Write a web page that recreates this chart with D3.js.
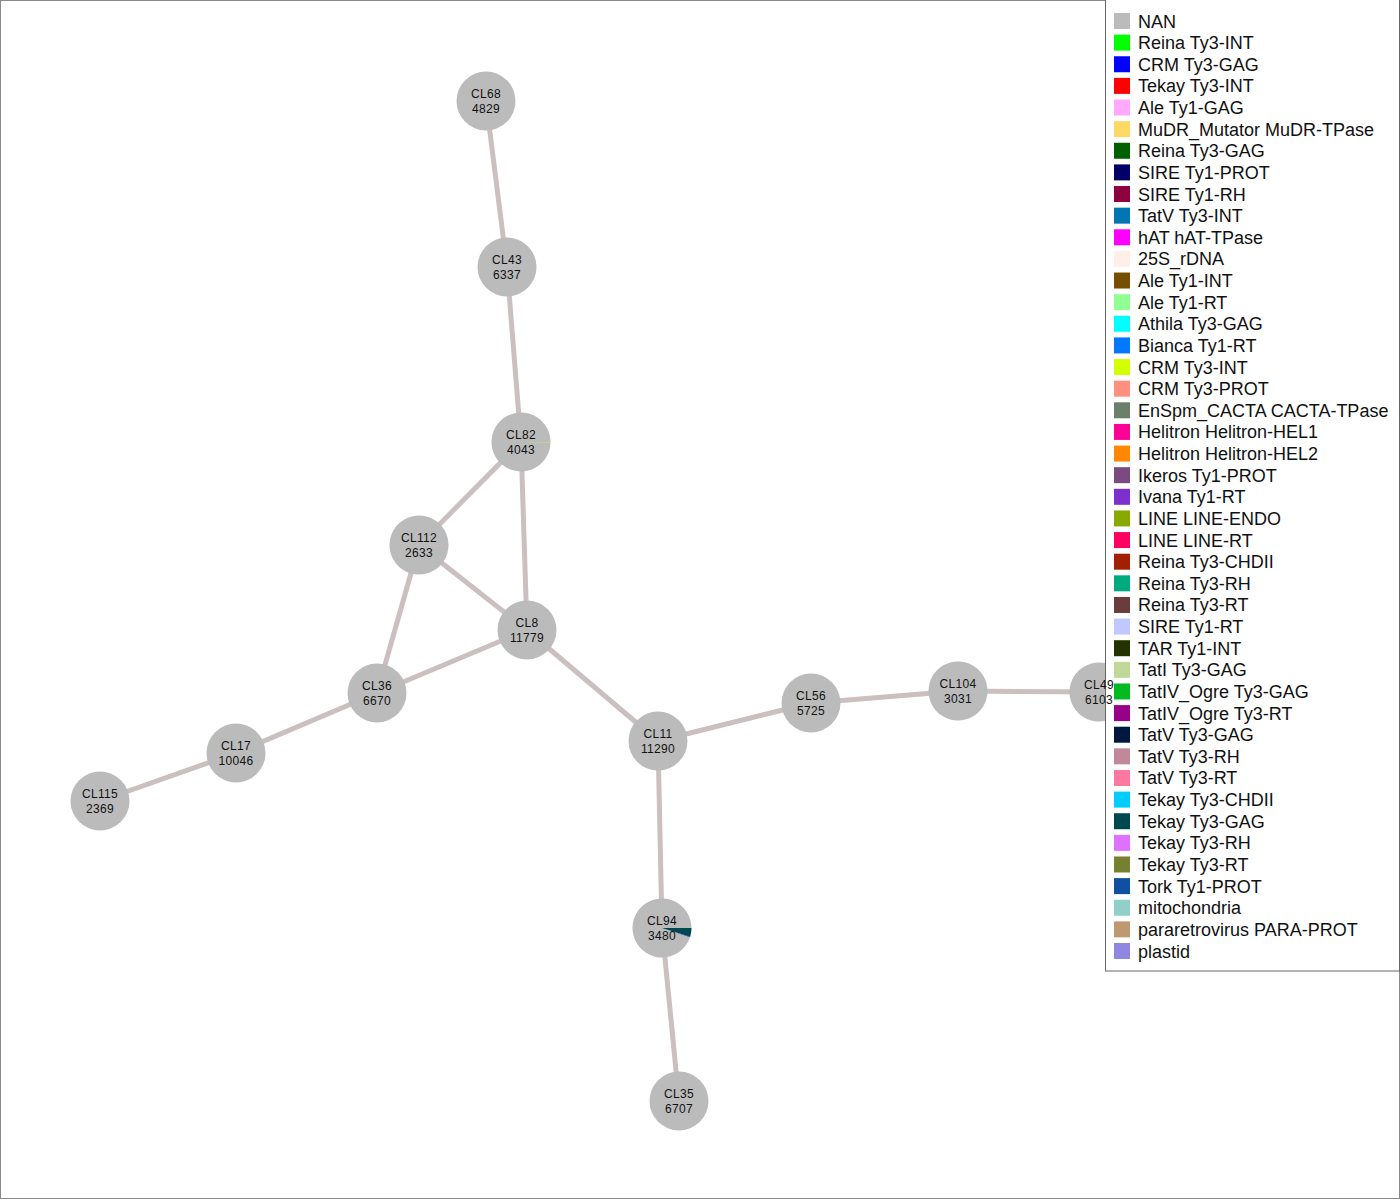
<!DOCTYPE html>
<html>
<head>
<meta charset="utf-8">
<script src="https://cdn.jsdelivr.net/npm/d3@7"></script>
<style>
  html, body { margin: 0; padding: 0; background: #fff; }
  svg { display: block; }
</style>
</head>
<body>
<svg width="1400" height="1200"></svg>
<script>
// legend categories and their colours
const categories = [
  'NAN', 'Reina Ty3-INT', 'CRM Ty3-GAG', 'Tekay Ty3-INT', 'Ale Ty1-GAG',
  'MuDR_Mutator MuDR-TPase', 'Reina Ty3-GAG', 'SIRE Ty1-PROT', 'SIRE Ty1-RH',
  'TatV Ty3-INT', 'hAT hAT-TPase', '25S_rDNA', 'Ale Ty1-INT', 'Ale Ty1-RT',
  'Athila Ty3-GAG', 'Bianca Ty1-RT', 'CRM Ty3-INT', 'CRM Ty3-PROT',
  'EnSpm_CACTA CACTA-TPase', 'Helitron Helitron-HEL1', 'Helitron Helitron-HEL2',
  'Ikeros Ty1-PROT', 'Ivana Ty1-RT', 'LINE LINE-ENDO', 'LINE LINE-RT',
  'Reina Ty3-CHDII', 'Reina Ty3-RH', 'Reina Ty3-RT', 'SIRE Ty1-RT', 'TAR Ty1-INT',
  'TatI Ty3-GAG', 'TatIV_Ogre Ty3-GAG', 'TatIV_Ogre Ty3-RT', 'TatV Ty3-GAG',
  'TatV Ty3-RH', 'TatV Ty3-RT', 'Tekay Ty3-CHDII', 'Tekay Ty3-GAG', 'Tekay Ty3-RH',
  'Tekay Ty3-RT', 'Tork Ty1-PROT', 'mitochondria', 'pararetrovirus PARA-PROT', 'plastid'
];
const catColors = [
  '#bbbbbb', '#00ff00', '#0000ff', '#ff0000', '#ffaaff',
  '#ffd966', '#006000', '#000066', '#8e003e',
  '#0077b2', '#ff00ff', '#ffefe8', '#764e00', '#92ff92',
  '#00ffff', '#0078ff', '#d4ff00', '#ff9080',
  '#6a806a', '#ff0096', '#ff8800',
  '#7a4a80', '#7e2fcf', '#88aa00', '#ff0060',
  '#a02000', '#00aa80', '#6a3c3c', '#c0c8ff', '#223300',
  '#c0d898', '#00bb20', '#990088', '#001840',
  '#c08898', '#ff78a0', '#00ccff', '#004850', '#e070ff',
  '#778030', '#1050a0', '#90d0c8', '#c09870', '#9088e0'
];

// clusters: name, read count, layout position
const nodeNames = ['CL68', 'CL43', 'CL82', 'CL112', 'CL8', 'CL36', 'CL17', 'CL115',
                   'CL11', 'CL56', 'CL104', 'CL49', 'CL94', 'CL35'];
const nodeSizes = [4829, 6337, 4043, 2633, 11779, 6670, 10046, 2369,
                   11290, 5725, 3031, 6103, 3480, 6707];
const layoutX = [486, 507, 521, 419, 527, 377, 236, 100, 658, 811, 958, 1099, 662, 679];
const layoutY = [101, 267, 442, 545, 630, 693, 753, 801, 741, 703, 691, 692, 928, 1101];

// annotated reads per cluster (the rest is NAN)
const annotations = {
  CL82: { 'CRM Ty3-GAG': 2, 'CRM Ty3-INT': 12 },
  CL112: { 'TatV Ty3-RH': 8 },
  CL104: { 'mitochondria': 9 },
  CL49: { 'Reina Ty3-INT': 5, 'Tekay Ty3-INT': 6 },
  CL94: { 'CRM Ty3-GAG': 12, 'Tekay Ty3-GAG': 165 }
};

// similarity edges
const edgeSource = ['CL68', 'CL43', 'CL82', 'CL82', 'CL112', 'CL112', 'CL36', 'CL36',
                    'CL17', 'CL8', 'CL11', 'CL56', 'CL104', 'CL11', 'CL94'];
const edgeTarget = ['CL43', 'CL82', 'CL112', 'CL8', 'CL8', 'CL36', 'CL8', 'CL17',
                    'CL115', 'CL11', 'CL56', 'CL104', 'CL49', 'CL94', 'CL35'];

const svg = d3.select('svg');
const W = 1400, H = 1200;

// layout space -> page
const x = d3.scaleLinear().domain([0, 1400]).range([0, W]);
const y = d3.scaleLinear().domain([0, 1200]).range([0, H]);
const color = d3.scaleOrdinal(categories, catColors);

const nodes = nodeNames.map((n, i) => ({ name: n, size: nodeSizes[i], x: layoutX[i], y: layoutY[i] }));
const byName = {};
nodes.forEach(d => { byName[d.name] = d; });
const edges = edgeSource.map((s, i) => ({ source: byName[s], target: byName[edgeTarget[i]] }));

// frame
svg.append('rect')
  .attr('x', 0.5).attr('y', 0.5)
  .attr('width', W - 1).attr('height', H - 2)
  .attr('fill', 'white')
  .attr('stroke', '#8a8a8a');

// edges
svg.append('g')
  .selectAll('line')
  .data(edges)
  .enter()
  .append('line')
  .attr('x1', d => x(d.source.x))
  .attr('y1', d => y(d.source.y))
  .attr('x2', d => x(d.target.x))
  .attr('y2', d => y(d.target.y))
  .attr('stroke', '#cbbfbf')
  .attr('stroke-width', 5);

// pies, counter-clockwise from 3 o'clock like the original
const r = 29.5;
const pie = d3.pie().sort(null).value(d => d.value)
  .startAngle(Math.PI / 2).endAngle(Math.PI / 2 - 2 * Math.PI);
const arc = d3.arc().innerRadius(0).outerRadius(r);

const nodeG = svg.append('g')
  .selectAll('g')
  .data(nodes)
  .enter()
  .append('g')
  .attr('transform', d => 'translate(' + x(d.x) + ',' + y(d.y) + ')');

nodeG.each(function (d) {
  const ann = annotations[d.name] || {};
  let annotated = 0;
  const parts = [];
  categories.forEach(c => {
    if (c !== 'NAN' && ann[c]) { parts.push({ cat: c, value: ann[c] }); annotated += ann[c]; }
  });
  parts.unshift({ cat: 'NAN', value: d.size - annotated });
  d3.select(this).selectAll('path')
    .data(pie(parts))
    .enter()
    .append('path')
    .attr('d', arc)
    .attr('fill', p => color(p.data.cat));
});

// legend
const legend = svg.append('g');
const ly = d3.scaleLinear().domain([0, categories.length - 1]).range([21, 951]);
legend.append('rect')
  .attr('x', 1105.5).attr('y', -1)
  .attr('width', 294).attr('height', 972)
  .attr('fill', 'white')
  .attr('stroke', '#666');
const item = legend.selectAll('g.item')
  .data(categories)
  .enter()
  .append('g')
  .attr('class', 'item')
  .attr('transform', (d, i) => 'translate(1114,' + ly(i) + ')');
item.append('rect')
  .attr('x', 0).attr('y', -8)
  .attr('width', 16).attr('height', 16)
  .attr('fill', d => color(d));
item.append('text')
  .attr('x', 24).attr('y', 6.5)
  .style('font-family', 'Liberation Sans, Arial, sans-serif')
  .style('font-size', '18px')
  .attr('fill', '#111')
  .text(d => d);

// node labels sit on top of everything, legend included
const labels = svg.append('g')
  .selectAll('g')
  .data(nodes)
  .enter()
  .append('g')
  .attr('transform', d => 'translate(' + x(d.x) + ',' + y(d.y) + ')')
  .style('font-family', 'Liberation Sans, Arial, sans-serif')
  .style('font-size', '12px')
  .style('letter-spacing', '0.3px')
  .attr('fill', '#111')
  .attr('text-anchor', 'middle');
labels.append('text')
  .attr('y', -3)
  .text(d => d.name);
labels.append('text')
  .attr('y', 12)
  .text(d => d.size);
</script>
</body>
</html>
